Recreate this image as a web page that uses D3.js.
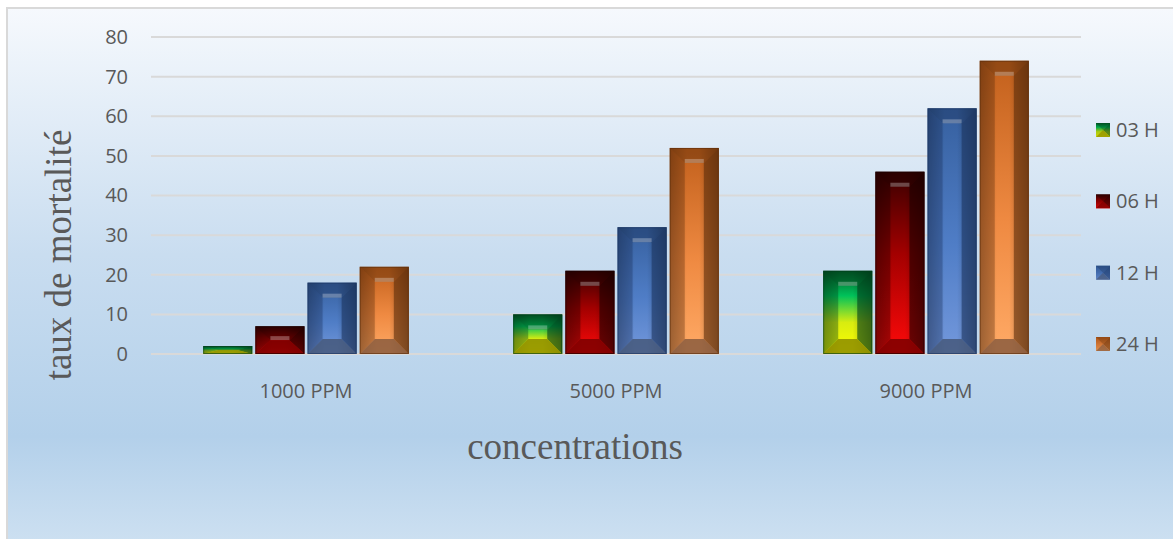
<!DOCTYPE html>
<html>
<head>
<meta charset="utf-8">
<script src="https://cdn.jsdelivr.net/npm/d3@7"></script>
<style>
  html, body { margin: 0; padding: 0; background: #ffffff; }
  svg { display: block; }
</style>
</head>
<body>
<svg id="chart" width="1173" height="539"></svg>
<script>
// Mortality rate by concentration and exposure time
const categories = ["1000 PPM", "5000 PPM", "9000 PPM"];
const seriesNames = ["03 H", "06 H", "12 H", "24 H"];
const values03h = [2, 10, 21];
const values06h = [7, 21, 46];
const values12h = [18, 32, 62];
const values24h = [22, 52, 74];
const yTicks = [0, 10, 20, 30, 40, 50, 60, 70, 80];

const seriesValues = [values03h, values06h, values12h, values24h];

// Colour ramps (top -> bottom) for each series body
const ramps = {
  "03 H": [["0%", "#005a28"], ["30%", "#00c25a"], ["62%", "#d8ec10"], ["100%", "#ffff00"]],
  "06 H": [["0%", "#3a0000"], ["45%", "#a30000"], ["100%", "#ff0a0a"]],
  "12 H": [["0%", "#36609f"], ["55%", "#4f7dc6"], ["100%", "#7398dc"]],
  "24 H": [["0%", "#c2601c"], ["55%", "#ef8a42"], ["100%", "#ffaa66"]]
};
const bottomTint = { "03 H": "#8c8c00", "06 H": "#7a0000", "12 H": "#45587a", "24 H": "#8a5c3e" };
const sideTint = { "03 H": "#00401a", "06 H": "#1a0000", "12 H": "#1c3560", "24 H": "#5e2e0c" };

const labelFont = "'Open Sans', 'Noto Sans', sans-serif";
const titleFont = "'Liberation Serif', 'Times New Roman', serif";

const svg = d3.select("#chart");
const W = 1173, H = 539;
const defs = svg.append("defs");

// Chart-area background
const bg = defs.append("linearGradient").attr("id", "bgGrad")
  .attr("x1", 0).attr("y1", 0).attr("x2", 0).attr("y2", 1);
[["0%", "#f6f9fd"], ["45%", "#c9ddf0"], ["78%", "#b3d0ea"], ["100%", "#d0e2f2"]]
  .forEach(([o, c]) => bg.append("stop").attr("offset", o).attr("stop-color", c));

svg.append("rect")
  .attr("x", 7).attr("y", 8).attr("width", W + 10).attr("height", H + 10)
  .attr("fill", "url(#bgGrad)")
  .attr("stroke", "#d9d9d9").attr("stroke-width", 2);

// Body gradients
seriesNames.forEach((s, i) => {
  const g = defs.append("linearGradient").attr("id", "body" + i)
    .attr("x1", 0).attr("y1", 0).attr("x2", 0).attr("y2", 1);
  ramps[s].forEach(([o, c]) => g.append("stop").attr("offset", o).attr("stop-color", c));
});
// Horizontal shading (rounded look)
const hs = defs.append("linearGradient").attr("id", "hShade")
  .attr("x1", 0).attr("y1", 0).attr("x2", 1).attr("y2", 0);
[["0%", 0.25], ["35%", 0.0], ["60%", 0.0], ["100%", 0.35]]
  .forEach(([o, a]) => hs.append("stop").attr("offset", o).attr("stop-color", "#000").attr("stop-opacity", a));

// Scales
const plotLeft = 151, plotRight = 1081;
const x0 = d3.scaleBand().domain(categories).range([plotLeft, plotRight]).paddingInner(0).paddingOuter(0);
const x1 = d3.scaleBand().domain(seriesNames).range([0, x0.bandwidth()]).paddingInner(0.06).paddingOuter(1.0);
const y = d3.scaleLinear().domain([0, 80]).range([354, 37]);

// Grid lines
svg.append("g").selectAll("line").data(yTicks).join("line")
  .attr("x1", plotLeft).attr("x2", plotRight)
  .attr("y1", d => y(d)).attr("y2", d => y(d))
  .attr("stroke", "#d9d9d9").attr("stroke-width", 2);

// Y axis tick labels
const yAxis = d3.axisLeft(y).tickValues(yTicks).tickSize(0).tickPadding(0);
const yg = svg.append("g").attr("transform", "translate(128,0)").call(yAxis);
yg.select(".domain").remove();
yg.selectAll("text")
  .attr("fill", "#595959")
  .style("font-family", labelFont)
  .style("font-size", "20px");

// X axis category labels
const xAxis = d3.axisBottom(x0).tickSize(0).tickPadding(0);
const xg = svg.append("g").attr("transform", "translate(0,384)").call(xAxis);
xg.select(".domain").remove();
xg.selectAll("text")
  .attr("fill", "#595959")
  .attr("dy", "0.71em")
  .style("font-family", labelFont)
  .style("font-size", "20px");

// Bevelled bar drawing
function drawBar(g, x, yTop, w, h, si) {
  const s = seriesNames[si];
  const b = Math.min(15, w / 2, h / 2);
  const bx = Math.min(15, w / 2);
  const x2 = x + w, yB = yTop + h;
  g.append("rect").attr("x", x).attr("y", yTop).attr("width", w).attr("height", h)
    .attr("fill", `url(#body${si})`);
  g.append("rect").attr("x", x).attr("y", yTop).attr("width", w).attr("height", h)
    .attr("fill", "url(#hShade)");
  // left bevel
  g.append("polygon")
    .attr("points", [[x, yTop], [x + bx, yTop + b], [x + bx, yB - b], [x, yB]].join(" "))
    .attr("fill", sideTint[s]).attr("fill-opacity", 0.35);
  // right bevel
  g.append("polygon")
    .attr("points", [[x2, yTop], [x2 - bx, yTop + b], [x2 - bx, yB - b], [x2, yB]].join(" "))
    .attr("fill", sideTint[s]).attr("fill-opacity", 0.6);
  // top bevel
  g.append("polygon")
    .attr("points", [[x, yTop], [x2, yTop], [x2 - bx, yTop + b], [x + bx, yTop + b]].join(" "))
    .attr("fill", sideTint[s]).attr("fill-opacity", 0.45);
  // highlight at inner edge of top bevel
  if (b > 4) {
    g.append("rect").attr("x", x + bx).attr("y", yTop + b - 4).attr("width", Math.max(0, w - 2 * bx)).attr("height", 4)
      .attr("fill", "#ffffff").attr("fill-opacity", 0.28);
  }
  // bottom bevel
  g.append("polygon")
    .attr("points", [[x, yB], [x2, yB], [x2 - bx, yB - b], [x + bx, yB - b]].join(" "))
    .attr("fill", bottomTint[s]).attr("fill-opacity", 0.85);
  // outline
  g.append("rect").attr("x", x + 0.5).attr("y", yTop + 0.5).attr("width", w - 1).attr("height", Math.max(0, h - 1))
    .attr("fill", "none").attr("stroke", sideTint[s]).attr("stroke-opacity", 0.6).attr("stroke-width", 1);
}

const bars = svg.append("g");
categories.forEach((c, ci) => {
  seriesNames.forEach((s, si) => {
    const v = seriesValues[si][ci];
    const g = bars.append("g");
    drawBar(g, x0(c) + x1(s), y(v), x1.bandwidth(), y(0) - y(v), si);
  });
});

// Legend
const legY = d3.scalePoint().domain(seriesNames).range([130, 344]);
const leg = svg.append("g");
seriesNames.forEach((s, si) => {
  const cy = legY(s);
  const sx = 1096, sy = cy - 7, sz = 14;
  const g = leg.append("g");
  g.append("rect").attr("x", sx).attr("y", sy).attr("width", sz).attr("height", sz)
    .attr("fill", `url(#body${si})`);
  const c = [sx + sz / 2, sy + sz / 2];
  g.append("polygon").attr("points", [[sx, sy], [sx + sz, sy], c].join(" "))
    .attr("fill", sideTint[s]).attr("fill-opacity", 0.45);
  g.append("polygon").attr("points", [[sx + sz, sy], [sx + sz, sy + sz], c].join(" "))
    .attr("fill", sideTint[s]).attr("fill-opacity", 0.6);
  g.append("polygon").attr("points", [[sx, sy + sz], [sx + sz, sy + sz], c].join(" "))
    .attr("fill", bottomTint[s]).attr("fill-opacity", 0.8);
  g.append("polygon").attr("points", [[sx, sy], [sx, sy + sz], c].join(" "))
    .attr("fill", sideTint[s]).attr("fill-opacity", 0.2);
  leg.append("text").attr("x", 1116).attr("y", cy).attr("dy", "0.35em")
    .attr("fill", "#595959")
    .style("font-family", labelFont)
    .style("font-size", "20px")
    .text(s);
});

// Axis titles
svg.append("text")
  .attr("transform", "translate(71,255) rotate(-90)")
  .attr("text-anchor", "middle")
  .attr("fill", "#595959")
  .style("font-family", titleFont)
  .style("font-size", "37px")
  .text("taux de mortalité");

svg.append("text")
  .attr("x", 575).attr("y", 459)
  .attr("text-anchor", "middle")
  .attr("fill", "#595959")
  .style("font-family", titleFont)
  .style("font-size", "37px")
  .text("concentrations");
</script>
</body>
</html>
